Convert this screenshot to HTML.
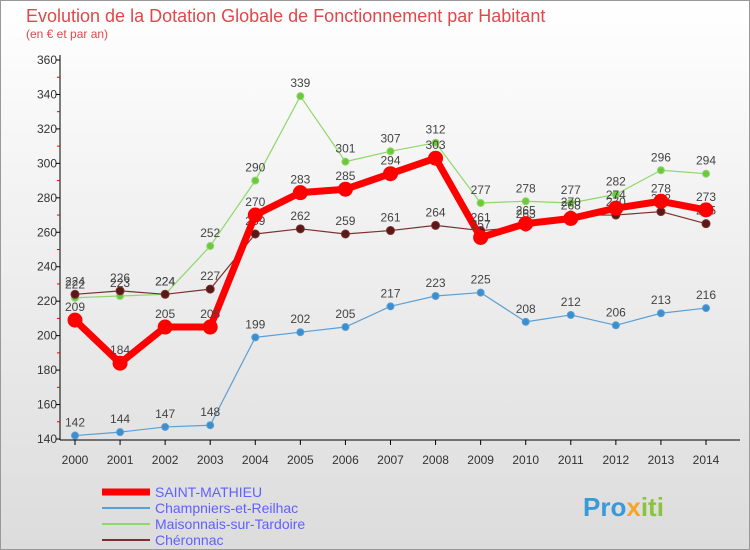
<!DOCTYPE html>
<html><head><meta charset="utf-8"><style>
body{margin:0;background:#fff}
svg{display:block;font-family:"Liberation Sans",sans-serif}
</style></head><body>
<svg width="750" height="550" viewBox="0 0 750 550">
<defs><linearGradient id="bg" x1="0" y1="0" x2="0" y2="1"><stop offset="0" stop-color="#ffffff"/><stop offset="1" stop-color="#dcdcdc"/></linearGradient></defs>
<rect x="0.5" y="0.5" width="749" height="549" fill="url(#bg)" stroke="#999"/>
<text x="26" y="22" font-size="18" fill="#e0484a">Evolution de la Dotation Globale de Fonctionnement par Habitant</text>
<text x="26" y="38" font-size="12" fill="#e0484a">(en € et par an)</text>
<g id="axes"></g>
<g id="series"></g>
<g id="legend"></g>
<text x="583" y="516" font-size="26" font-weight="bold" fill="#3a9ad9">Pro<tspan fill="#f5a623">x</tspan><tspan fill="#8ac43f">iti</tspan></text>
</svg>
<script>
const years=[2000,2001,2002,2003,2004,2005,2006,2007,2008,2009,2010,2011,2012,2013,2014];
const saintMathieu=[209,184,205,205,270,283,285,294,303,257,265,268,274,278,273];
const champniers=[142,144,147,148,199,202,205,217,223,225,208,212,206,213,216];
const maisonnais=[222,223,224,252,290,339,301,307,312,277,278,277,282,296,294];
const cheronnac=[224,226,224,227,259,262,259,261,264,261,263,270,270,272,265];
const yTicks=[140,160,180,200,220,240,260,280,300,320,340,360];
const NS="http://www.w3.org/2000/svg";
function X(i){return 75+i*(706-75)/14;}
function Y(v){return 439-(v-140)*(439-60)/220;}
function mk(tag,attrs,parent){const e=document.createElementNS(NS,tag);for(const k in attrs)e.setAttribute(k,attrs[k]);parent.appendChild(e);return e;}
const ax=document.getElementById('axes');
const yl=mk('line',{x1:60,y1:55,x2:60,y2:440,stroke:'#000','stroke-width':1},ax);


const xl=mk('line',{x1:60,y1:440,x2:740,y2:440,stroke:'#000','stroke-width':1},ax);


yTicks.forEach((t,i)=>{
  const tx=mk('text',{x:57,y:Y(t)+4,'font-size':12,fill:'#333','text-anchor':'end'},ax);tx.textContent=t;
  
  
  mk('line',{x1:56,y1:Y(t),x2:60,y2:Y(t),stroke:'#000'},ax);
  if(i<yTicks.length-1)mk('line',{x1:57,y1:Y(t+10),x2:60,y2:Y(t+10),stroke:'#e00'},ax);
});
years.forEach((y,i)=>{
  const tx=mk('text',{x:X(i),y:464,'font-size':12,fill:'#333','text-anchor':'middle'},ax);tx.textContent=y;
  
  
  mk('line',{x1:X(i),y1:440,x2:X(i),y2:445,stroke:'#000'},ax);
});
const sg=document.getElementById('series');
function series(vals,color,dot,w,r,name){
  const g=mk('g',{},sg);
  
  
  mk('polyline',{points:vals.map((v,i)=>X(i)+','+Y(v)).join(' '),fill:'none',stroke:color,'stroke-width':w,'stroke-linejoin':'round'},g);
  vals.forEach((v,i)=>{
    const c=mk('circle',{cx:X(i),cy:Y(v),r:r,fill:dot,stroke:color,'stroke-width':1},g);
    
    
    const t=mk('text',{x:X(i),y:Y(v)-9,'font-size':12,fill:'#444','text-anchor':'middle'},g);t.textContent=v;
    
    
  });
}
series(champniers,'#5b9fd4','#3a8fd0',1.2,3.5,'champniers-series');
series(maisonnais,'#8ed86a','#6cc83c',1.2,3.5,'maisonnais-series');
series(cheronnac,'#7a3030','#5a1818',1.2,4,'cheronnac-series');
series(saintMathieu,'#f00','#f00',7,7,'saint-mathieu-series');
const lg=document.getElementById('legend');
const items=[['SAINT-MATHIEU','#f00',7],['Champniers-et-Reilhac','#5b9fd4',2],['Maisonnais-sur-Tardoire','#8ed86a',2],['Chéronnac','#7a3030',2]];
items.forEach((it,i)=>{
  const y=492+i*16;
  const g=mk('g',{},lg);
  
  
  mk('line',{x1:102,y1:y,x2:150,y2:y,stroke:it[1],'stroke-width':it[2]},g);
  const t=mk('text',{x:155,y:y+5,'font-size':14,fill:'#6060ff'},g);t.textContent=it[0];
});
</script>
</body></html>
